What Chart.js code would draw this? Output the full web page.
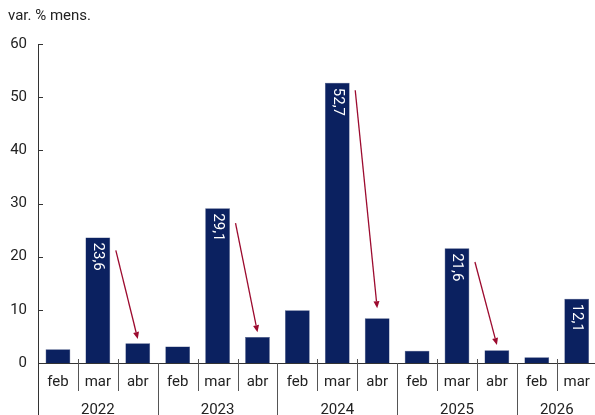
<!DOCTYPE html>
<html>
<head>
<meta charset="utf-8">
<script src="https://cdn.jsdelivr.net/npm/chart.js@4/dist/chart.umd.min.js"></script>
<style>
  html, body { margin: 0; padding: 0; background: #fff; overflow: hidden; }
  #wrap { position: relative; width: 600px; height: 425px; }
</style>
</head>
<body>
<div id="wrap"><canvas id="chart"></canvas></div>
<script>
// monthly change by month, grouped per year
const months = ['feb', 'mar', 'abr', 'feb', 'mar', 'abr', 'feb', 'mar', 'abr', 'feb', 'mar', 'abr', 'feb', 'mar'];
const years = ['2022', '2023', '2024', '2025', '2026'];
const yearSizes = [3, 3, 3, 3, 2];
const values = [2.6, 23.6, 3.7, 3.1, 29.1, 4.9, 9.9, 52.7, 8.4, 2.3, 21.6, 2.4, 1.1, 12.1];
const labelled = [1, 4, 7, 10, 13];
const yTicks = [0, 10, 20, 30, 40, 50, 60];

// arrows from the march peak down to april
const arrowFromIdx = [1, 4, 7, 10];
const arrowFromVal = [21.2, 26.3, 51.3, 19.0];
const arrowToIdx = [2, 5, 8, 11];
const arrowToVal = [4.5, 5.8, 10.3, 3.4];

const FONT = 'Roboto, "Liberation Sans", Arial, sans-serif';
const BAR = '#0b2160';
const ARROW = '#9c0a2e';
const INK = '#222';

const extras = {
  id: 'extras',
  afterDraw(chart) {
    const ctx = chart.ctx;
    const x = chart.scales.x, y = chart.scales.y;
    const area = chart.chartArea;
    const step = x.getPixelForValue(1) - x.getPixelForValue(0);
    ctx.save();

    // axis title
    ctx.fillStyle = INK;
    ctx.font = '15px ' + FONT;
    ctx.textAlign = 'left';
    ctx.textBaseline = 'middle';
    ctx.fillText('var. % mens.', 8, 16);

    // inward y ticks
    ctx.strokeStyle = '#333';
    ctx.lineWidth = 1;
    ctx.beginPath();
    yTicks.forEach(v => {
      const py = Math.round(y.getPixelForValue(v)) + 0.5;
      ctx.moveTo(area.left, py);
      ctx.lineTo(area.left + 5, py);
    });
    // left axis continues through the label rows
    const lx = Math.round(area.left) + 0.5;
    ctx.moveTo(lx, area.top);
    ctx.lineTo(lx, chart.height);
    ctx.stroke();

    // month and year separators
    ctx.strokeStyle = '#555';
    ctx.beginPath();
    let start = 0;
    const yearEnds = [];
    yearSizes.forEach(n => { start += n; yearEnds.push(start); });
    for (let i = 1; i < months.length; i++) {
      const px = Math.round(x.getPixelForValue(i) - step / 2) + 0.5;
      if (yearEnds.includes(i)) {
        ctx.moveTo(px, area.bottom);
        ctx.lineTo(px, chart.height);
      } else {
        ctx.moveTo(px, area.bottom - 4);
        ctx.lineTo(px, area.bottom + 28);
      }
    }
    ctx.stroke();

    // year labels
    ctx.fillStyle = INK;
    ctx.font = '15px ' + FONT;
    ctx.textAlign = 'center';
    ctx.textBaseline = 'middle';
    let first = 0;
    years.forEach((yr, k) => {
      const last = first + yearSizes[k] - 1;
      const cx = (x.getPixelForValue(first) + x.getPixelForValue(last)) / 2;
      ctx.fillText(yr, cx, area.bottom + 47);
      first = last + 1;
    });

    // rotated value labels inside the bars
    const meta = chart.getDatasetMeta(0);
    ctx.fillStyle = '#fff';
    ctx.font = '15px ' + FONT;
    labelled.forEach(i => {
      const bar = meta.data[i];
      ctx.save();
      ctx.translate(bar.x, bar.y + 5);
      ctx.rotate(Math.PI / 2);
      ctx.textAlign = 'left';
      ctx.textBaseline = 'middle';
      ctx.fillText(values[i].toFixed(1).replace('.', ','), 0, 0);
      ctx.restore();
    });

    // arrows
    ctx.strokeStyle = ARROW;
    ctx.fillStyle = ARROW;
    ctx.lineWidth = 1.3;
    arrowFromIdx.forEach((fi, k) => {
      const x1 = x.getPixelForValue(fi) + step * 0.45;
      const y1 = y.getPixelForValue(arrowFromVal[k]);
      const x2 = x.getPixelForValue(arrowToIdx[k]);
      const y2 = y.getPixelForValue(arrowToVal[k]);
      const ang = Math.atan2(y2 - y1, x2 - x1);
      const head = 7;
      const bx = x2 - head * Math.cos(ang), by = y2 - head * Math.sin(ang);
      ctx.beginPath();
      ctx.moveTo(x1, y1);
      ctx.lineTo(bx, by);
      ctx.stroke();
      ctx.beginPath();
      ctx.moveTo(x2, y2);
      ctx.lineTo(bx + 3 * Math.sin(ang), by - 3 * Math.cos(ang));
      ctx.lineTo(bx - 3 * Math.sin(ang), by + 3 * Math.cos(ang));
      ctx.closePath();
      ctx.fill();
    });

    ctx.restore();
  }
};

new Chart(document.getElementById('chart'), {
  type: 'bar',
  data: {
    labels: months,
    datasets: [{
      data: values,
      backgroundColor: BAR,
      borderColor: '#3b4a7a',
      borderWidth: 0.5,
      barPercentage: 0.62,
      categoryPercentage: 1
    }]
  },
  options: {
    responsive: true,
    maintainAspectRatio: false,
    animation: false,
    events: [],
    layout: { padding: { top: 44, right: 3, left: 0, bottom: 0 } },
    plugins: {
      legend: { display: false },
      tooltip: { enabled: false },
      title: { display: false }
    },
    scales: {
      x: {
        grid: { display: false, drawTicks: false },
        border: { display: true, color: '#333', width: 1 },
        ticks: {
          color: INK,
          font: { family: FONT, size: 15 },
          padding: 10,
          maxRotation: 0,
          autoSkip: false
        },
        afterFit(s) { s.height = 62; }
      },
      y: {
        min: 0,
        max: 60,
        grid: { display: false, drawTicks: false },
        border: { display: true, color: '#333', width: 1 },
        afterBuildTicks(s) { s.ticks = yTicks.map(v => ({ value: v })); },
        ticks: {
          color: INK,
          font: { family: FONT, size: 15 },
          padding: 11
        },
        afterFit(s) { s.width = 38; }
      }
    }
  },
  plugins: [extras]
});
</script>
</body>
</html>
